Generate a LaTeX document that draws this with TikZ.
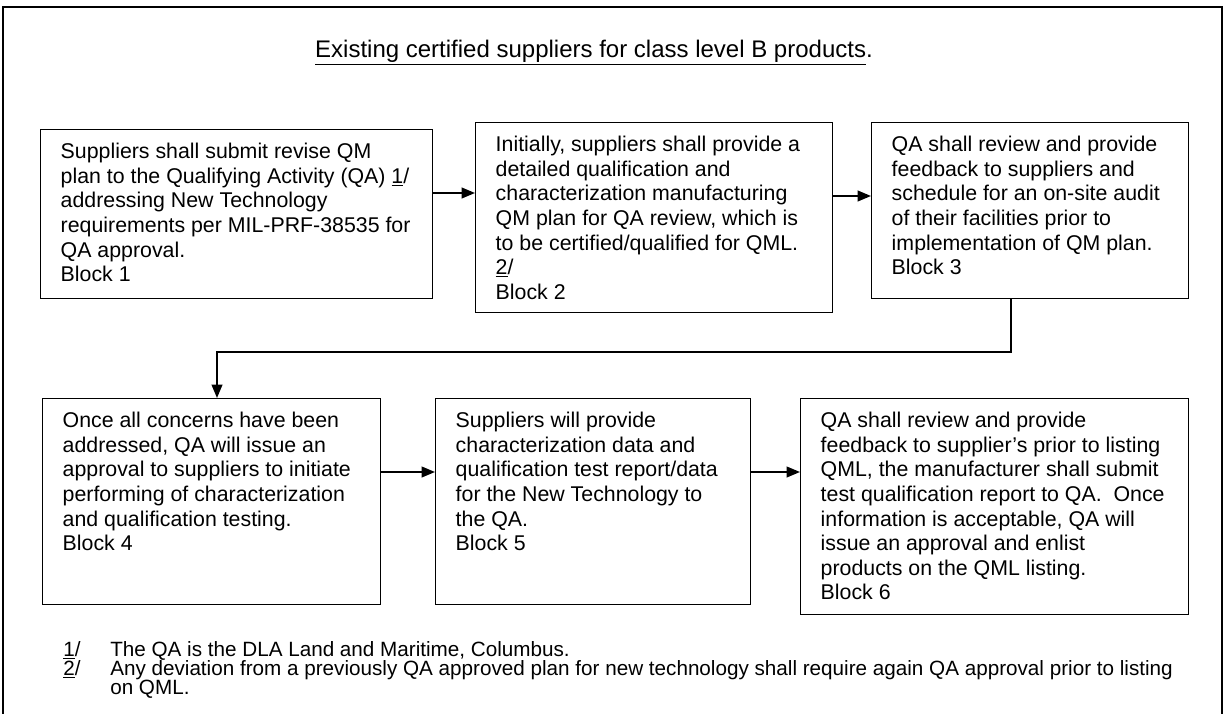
\documentclass[tikz,border=0pt]{standalone}
\usepackage{fontspec}
\setmainfont{Liberation Sans}
\usetikzlibrary{arrows.meta}

% text of a block, pinned to the top of its box
\newcommand{\blocktext}[3]{\parbox[t][#2][t]{#1}{\raggedright\strut #3}}
% lines of the notes under the blocks
\newcommand{\notelines}[2]{\parbox[t]{#1}{\raggedright #2}}

\begin{document}
\begin{tikzpicture}[x=0.75pt,y=-0.75pt,
  blockbox/.style={draw, line width=1.1pt, anchor=north west, inner xsep=15pt, inner ysep=9pt,
    font=\fontsize{16}{18.4}\selectfont},
  flowarrow/.style={line width=1.4pt, -{Triangle[length=10pt,width=8pt]}},
  heading/.style={inner sep=0pt, font=\fontsize{18}{21}\selectfont},
  notetext/.style={anchor=base west, inner sep=0pt, font=\fontsize{15.5}{14.6}\selectfont}]
  \useasboundingbox (0,0) rectangle (1226,713);

  % outer frame (runs off the bottom)
  \draw[line width=1.4pt] (3,716) -- (3,7) -- (1222,7) -- (1222,716);

  % heading
  \node[heading] (title) at (594,53) {\underline{Existing certified suppliers for class level B products}.};

  % Row 1 (top row) - blocks 1 to 3
  \node[blockbox] (b1) at (40,129) {\blocktext{264pt}{108.75pt}{Suppliers shall submit revise QM\\
    plan to the Qualifying Activity (QA) \underline{1}/\\
    addressing New Technology\\
    requirements per MIL-PRF-38535 for\\
    QA approval.\\
    Block 1}};
  \node[blockbox] (b2) at (475,122) {\blocktext{237.75pt}{124.5pt}{Initially, suppliers shall provide a\\
    detailed qualification and\\
    characterization manufacturing\\
    QM plan for QA review, which is\\
    to be certified/qualified for QML.\\
    \underline{2}/\\
    Block 2}};
  \node[blockbox] (b3) at (871,122) {\blocktext{207.75pt}{114pt}{QA shall review and provide\\
    feedback to suppliers and\\
    schedule for an on-site audit\\
    of their facilities prior to\\
    implementation of QM plan.\\
    Block 3}};

  % Row 2 (bottom row) - blocks 4 to 6
  \node[blockbox] (b4) at (42,398) {\blocktext{223.5pt}{136.5pt}{Once all concerns have been\\
    addressed, QA will issue an\\
    approval to suppliers to initiate\\
    performing of characterization\\
    and qualification testing.\\
    Block 4}};
  \node[blockbox] (b5) at (435,398) {\blocktext{206.25pt}{136.5pt}{Suppliers will provide\\
    characterization data and\\
    qualification test report/data\\
    for the New Technology to\\
    the QA.\\
    Block 5}};
  \node[blockbox] (b6) at (800,398) {\blocktext{261pt}{144pt}{QA shall review and provide\\
    feedback to supplier’s prior to listing\\
    QML, the manufacturer shall submit\\
    test qualification report to QA.\ \ Once\\
    information is acceptable, QA will\\
    issue an approval and enlist\\
    products on the QML listing.\\
    Block 6}};

  % arrows
  \coordinate (r1) at (0,193);
  \coordinate (r2) at (0,196);
  \coordinate (r3) at (0,472);
  \draw[flowarrow] (b1.east |- r1) -- (b2.west |- r1);
  \draw[flowarrow] (b2.east |- r2) -- (b3.west |- r2);
  \draw[flowarrow] (b4.east |- r3) -- (b5.west |- r3);
  \draw[flowarrow] (b5.east |- r3) -- (b6.west |- r3);

  % block 3 down to block 4
  \coordinate (turn) at (1011,352);
  \coordinate (drop) at (217,352);
  \draw[flowarrow] (b3.south -| turn) -- (turn) -- (drop) -- (b4.north -| drop);

  % notes
  \node[notetext] (marks) at (63,656) {\notelines{30pt}{\underline{1}/\\ \underline{2}/}};
  \node[notetext] (notes) at (110,656) {\notelines{830pt}{The QA is the DLA Land and Maritime, Columbus.\\
    Any deviation from a previously QA approved plan for new technology shall require again QA approval prior to listing\\
    on QML.}};
\end{tikzpicture}
\end{document}
